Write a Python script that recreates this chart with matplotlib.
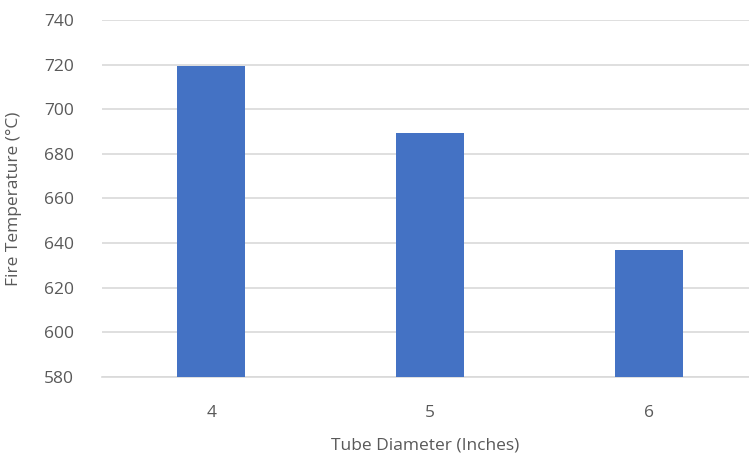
import matplotlib.pyplot as plt

# tube diameter vs fire temperature
diameters = ['4', '5', '6']
temperatures = [719.5, 689.5, 637]
y_ticks = [580, 600, 620, 640, 660, 680, 700, 720, 740]

plt.rcParams['font.family'] = ['Open Sans', 'DejaVu Sans']

fig = plt.figure(figsize=(7.49, 4.61), dpi=100)
ax = fig.add_axes([102 / 749, 1 - 377 / 461, 1 - 102 / 749, (377 - 20) / 461])

x = range(len(diameters))
ax.bar(x, temperatures, width=0.31, color='#4472C4', zorder=3)

ax.set_ylim(580, 740)
ax.set_xlim(-0.5, 2.458)
ax.set_yticks(y_ticks)
ax.set_xticks(list(x))
ax.set_xticklabels(diameters)

ax.grid(axis='y', color='#d9d9d9', linewidth=1.2, zorder=0)
for s in ['top', 'right', 'left']:
    ax.spines[s].set_visible(False)
ax.spines['bottom'].set_color('#d9d9d9')
ax.spines['bottom'].set_linewidth(1.2)
ax.tick_params(axis='both', length=0, labelsize=12.5, colors='#595959')
ax.tick_params(axis='x', pad=20)
ax.tick_params(axis='y', pad=20)

ax.set_xlabel('Tube Diameter (Inches)', fontsize=12.5, color='#595959', labelpad=12)
ax.set_ylabel('Fire Temperature (°C)', fontsize=12.5, color='#595959')
ax.yaxis.set_label_coords(-80 / 647, 0.5)

fig.savefig('out.png', dpi=100)
